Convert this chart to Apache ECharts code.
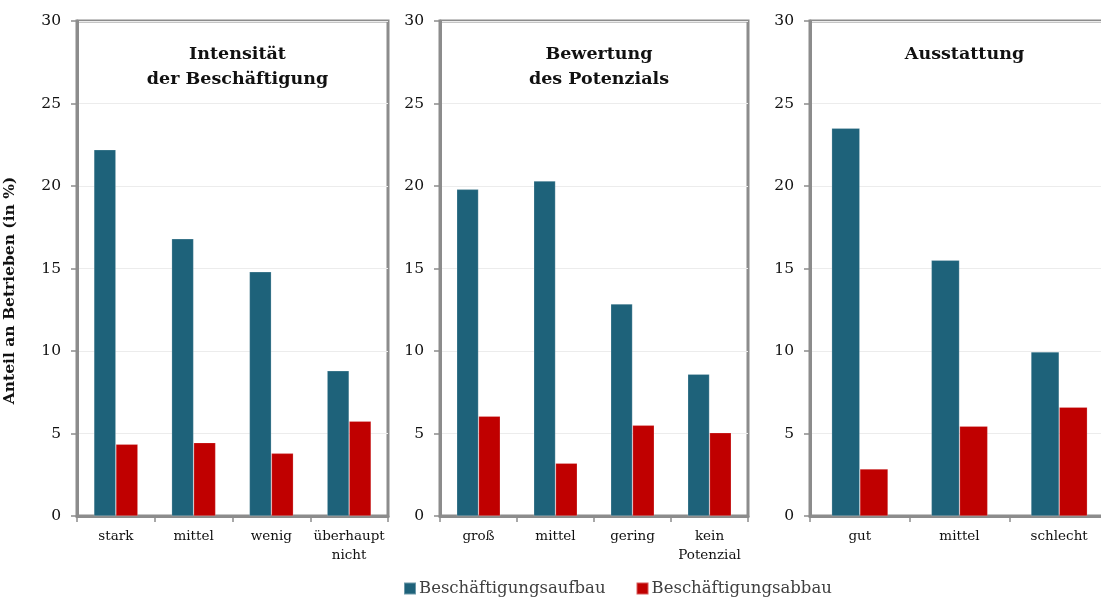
<!DOCTYPE html>
<html>
<head>
<meta charset="utf-8">
<script src="https://cdn.jsdelivr.net/npm/echarts@6/dist/echarts.min.js"></script>
<style>
  html, body { margin: 0; padding: 0; background: #fff; }
  #chart { width: 1101px; height: 598px; }
</style>
</head>
<body>
<div id="chart"></div>
<script>
// Panel categories
const catIntensitaet = ['stark', 'mittel', 'wenig', 'überhaupt\nnicht'];
const catPotenzial = ['groß', 'mittel', 'gering', 'kein\nPotenzial'];
const catAusstattung = ['gut', 'mittel', 'schlecht'];

// Share of firms (%) – employment growth / reduction
const aufbauIntensitaet = [22.2, 16.8, 14.8, 8.8];
const abbauIntensitaet = [4.35, 4.45, 3.8, 5.75];
const aufbauPotenzial = [19.8, 20.3, 12.85, 8.6];
const abbauPotenzial = [6.05, 3.2, 5.5, 5.05];
const aufbauAusstattung = [23.5, 15.5, 9.95];
const abbauAusstattung = [2.85, 5.45, 6.6];

const panelTitles = ['Intensität\nder Beschäftigung', 'Bewertung\ndes Potenzials', 'Ausstattung'];
const yTicks = [0, 5, 10, 15, 20, 25, 30];
const seriesNames = ['Beschäftigungsaufbau', 'Beschäftigungsabbau'];

const BLUE = '#1e627a';
const RED = '#c00000';
const FRAME = '#8c8c8c';
const SERIF = '"DejaVu Serif", "Liberation Serif", serif';

const grids = [
  { left: 77, top: 21, width: 311, height: 495 },
  { left: 440, top: 21, width: 308, height: 495 },
  { left: 810, top: 21, width: 299, height: 495 }
];
const cats = [catIntensitaet, catPotenzial, catAusstattung];
const aufbau = [aufbauIntensitaet, aufbauPotenzial, aufbauAusstattung];
const abbau = [abbauIntensitaet, abbauPotenzial, abbauAusstattung];

const chart = echarts.init(document.getElementById('chart'), null, { renderer: 'canvas' });

const option = {
  backgroundColor: '#fff',
  animation: false,
  textStyle: { fontFamily: SERIF },
  grid: grids.map(g => Object.assign({
    show: true, borderColor: FRAME, borderWidth: 3, backgroundColor: 'transparent',
    containLabel: false, outerBoundsMode: 'none'
  }, g)),
  title: grids.map((g, i) => ({
    text: panelTitles[i],
    left: g.left + g.width / 2,
    top: 37,
    textAlign: 'center',
    textStyle: { fontFamily: SERIF, fontWeight: 'bold', fontSize: 17.5, lineHeight: 25, color: '#111' }
  })),
  legend: {
    data: seriesNames,
    top: 575,
    left: 398,
    itemWidth: 12,
    itemHeight: 12,
    itemGap: 30,
    icon: 'rect',
    textStyle: { fontFamily: SERIF, fontSize: 16.5, color: '#404040', padding: [0, 0, 0, -2] }
  },
  xAxis: grids.map((g, i) => ({
    type: 'category',
    gridIndex: i,
    data: cats[i],
    axisLine: { lineStyle: { color: FRAME, width: 3 } },
    axisTick: { show: true, length: 6, lineStyle: { color: FRAME, width: 1.5 } },
    axisLabel: { fontFamily: SERIF, fontSize: 13.5, color: '#111', margin: 11, lineHeight: 19, interval: 0 }
  })),
  yAxis: grids.map((g, i) => ({
    type: 'value',
    gridIndex: i,
    min: 0,
    max: 30,
    interval: 5,
    name: i === 0 ? 'Anteil an Betrieben (in %)' : '',
    nameLocation: 'middle',
    nameRotate: 90,
    nameGap: 59,
    nameTextStyle: { fontFamily: SERIF, fontWeight: 'bold', fontSize: 15.5, color: '#111', padding: [0, 44, 0, 0] },
    axisLine: { show: true, lineStyle: { color: FRAME, width: 3 } },
    axisTick: { show: true, length: 6, lineStyle: { color: FRAME, width: 1.5 } },
    axisLabel: {
      fontFamily: SERIF, fontSize: 15.5, color: '#111', margin: 16,
      formatter: v => (yTicks.indexOf(v) >= 0 ? String(v) : '')
    },
    splitLine: { show: true, lineStyle: { color: '#ececec', width: 1 } }
  })),
  series: []
};

grids.forEach((g, i) => {
  option.series.push({
    name: seriesNames[0], type: 'bar', xAxisIndex: i, yAxisIndex: i,
    data: aufbau[i], barWidth: '28.3%', barGap: '0%',
    itemStyle: { color: BLUE, borderColor: 'rgba(255,255,255,0.35)', borderWidth: 0.6 }
  });
  option.series.push({
    name: seriesNames[1], type: 'bar', xAxisIndex: i, yAxisIndex: i,
    data: abbau[i], barWidth: '28.3%', barGap: '0%',
    itemStyle: { color: RED, borderColor: 'rgba(255,255,255,0.35)', borderWidth: 0.6 }
  });
});

chart.setOption(option);
</script>
</body>
</html>
